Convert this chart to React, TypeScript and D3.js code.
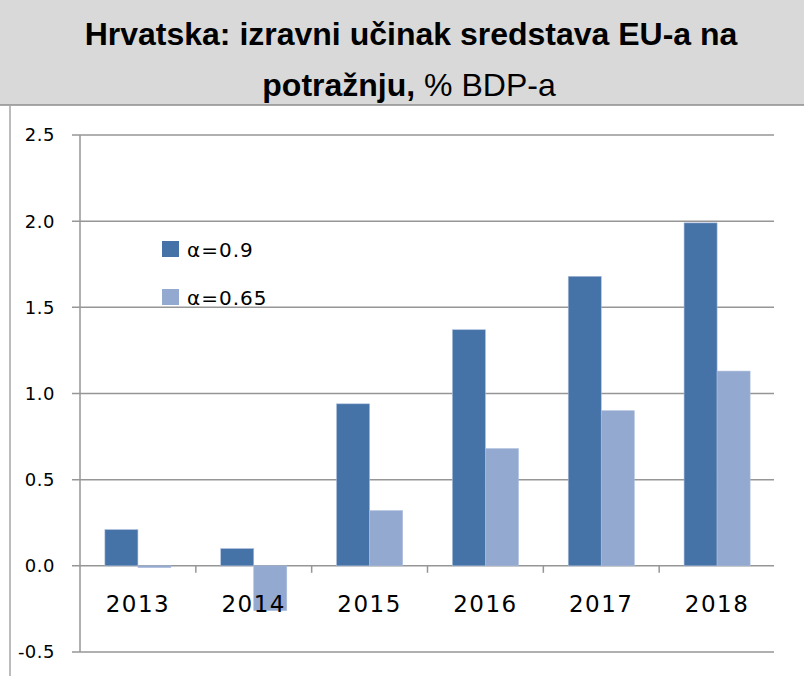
import React from 'react';
import { scaleBand, scaleLinear } from 'd3';

const years = ['2013', '2014', '2015', '2016', '2017', '2018'];
const alpha09 = [0.21, 0.1, 0.94, 1.37, 1.68, 1.99];
const alpha065 = [-0.01, -0.26, 0.32, 0.68, 0.9, 1.13];
const yTicks = [2.5, 2.0, 1.5, 1.0, 0.5, 0.0, -0.5];
const seriesNames = ['α=0.9', 'α=0.65'];
const colors = ['#4572a7', '#93a9cf'];

const W = 804;
const H = 676;
const left = 80;
const right = 775;
const labelFont = "'DejaVu Sans', sans-serif";

const App = () => {
  const x = scaleBand<string>().domain(years).range([left, right]).paddingInner(0.43).paddingOuter(0.215);
  const y = scaleLinear().domain([-0.5, 2.5]).range([652, 135]);
  const sub = scaleBand<number>().domain([0, 1]).range([0, x.bandwidth()]);
  const series = [alpha09, alpha065];
  const step = x.step();

  return (
    <svg width={W} height={H} style={{ position: 'absolute', left: 0, top: 0, background: '#fff' }}>
      {/* title band */}
      <rect x={0} y={0} width={W} height={105} fill="#d9d9d9" />
      <line x1={0} x2={W} y1={105} y2={105} stroke="#8c8c8c" strokeWidth={1.5} />
      <line x1={10} x2={10} y1={105} y2={H} stroke="#a6a6a6" strokeWidth={1.5} />
      <text x={411} y={45} textAnchor="middle" fontFamily="'Liberation Sans', Arial, sans-serif" fontSize={32} fontWeight="bold" fill="#000">
        Hrvatska: izravni učinak sredstava EU-a na
      </text>
      <text x={409} y={96} textAnchor="middle" fontFamily="'Liberation Sans', Arial, sans-serif" fontSize={32} fill="#000">
        <tspan fontWeight="bold">potražnju,</tspan>
        <tspan> % BDP-a</tspan>
      </text>

      {/* grid + y ticks */}
      {yTicks.map(t => (
        <g key={t}>
          <line x1={72} x2={774} y1={y(t)} y2={y(t)} stroke="#969696" strokeWidth={1.5} />
          <text x={55} y={y(t)} dy="0.36em" textAnchor="end" fontFamily={labelFont} fontSize={18} letterSpacing={0.5} fill="#000">
            {t.toFixed(1)}
          </text>
        </g>
      ))}
      <line x1={left} x2={left} y1={y(2.5)} y2={y(-0.5)} stroke="#969696" strokeWidth={1.5} />

      {/* bars */}
      {series.map((vals, si) =>
        vals.map((v, i) => {
          const bx = (x(years[i]) as number) + (sub(si) as number);
          const y0 = y(0);
          const y1 = y(v);
          return (
            <rect
              key={si + '-' + i}
              x={bx}
              y={Math.min(y0, y1)}
              width={sub.bandwidth()}
              height={Math.max(1, Math.abs(y1 - y0))}
              fill={colors[si]}
              stroke="#a9bcdc"
              strokeWidth={0.6}
            />
          );
        })
      )}

      {/* category ticks on zero line */}
      {years.slice(1).map((yr, i) => {
        const tx = left + step * (i + 1);
        return <line key={yr} x1={tx} x2={tx} y1={y(0)} y2={y(0) + 7} stroke="#969696" strokeWidth={1.5} />;
      })}
      {years.map(yr => (
        <text key={yr} x={(x(yr) as number) + x.bandwidth() / 2} y={612} textAnchor="middle" fontFamily={labelFont} fontSize={23} letterSpacing={1.5} fill="#000">
          {yr}
        </text>
      ))}

      {/* legend */}
      {seriesNames.map((n, i) => (
        <g key={n} transform={`translate(162, ${241 + i * 48})`}>
          <rect x={0} y={0} width={17} height={16} fill={colors[i]} />
          <text x={25} y={16} fontFamily={labelFont} fontSize={20} letterSpacing={1} fill="#000">
            {n}
          </text>
        </g>
      ))}
    </svg>
  );
};

export default App;
